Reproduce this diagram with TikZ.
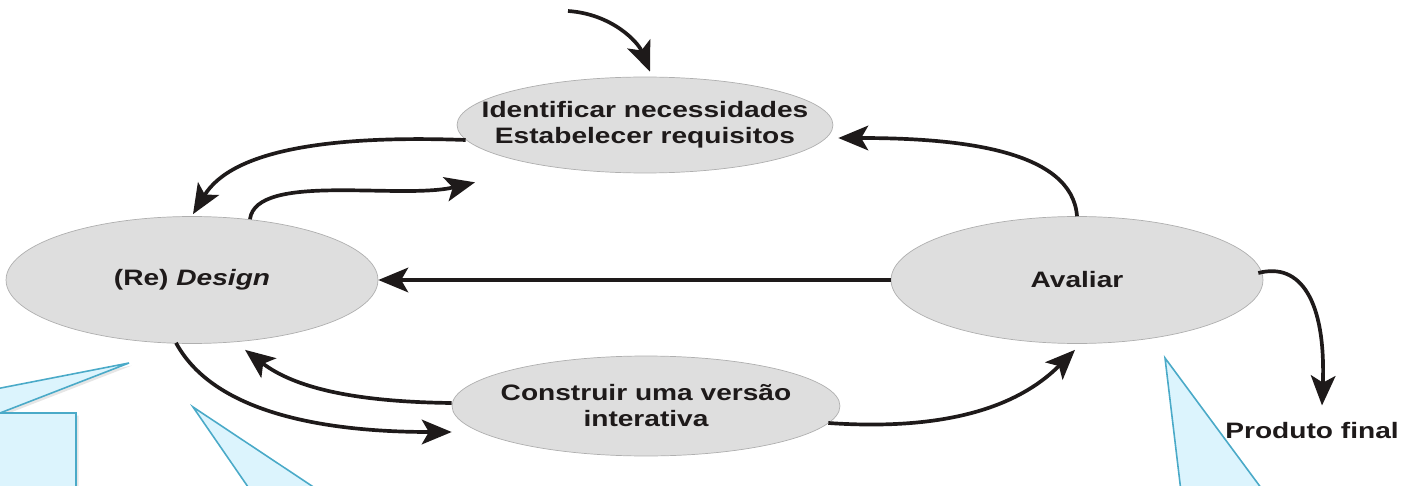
\documentclass[tikz,border=0pt]{standalone}
\usepackage{fontspec}
\newfontfamily\labelfont{Liberation Sans}[FakeStretch=1.26]
\usetikzlibrary{arrows.meta, shapes.geometric, shadows}
\definecolor{stagefill}{RGB}{222, 222, 222}
\definecolor{stageline}{RGB}{175, 175, 175}
\definecolor{calloutfill}{RGB}{220, 244, 253}
\definecolor{calloutline}{RGB}{74, 170, 200}
\definecolor{inkblack}{RGB}{30, 26, 26}
\tikzset{
    labeltext/.style={text=inkblack, font={\labelfont\bfseries\fontsize{12.7}{14.8}\selectfont}},
    stage/.style={ellipse, draw=stageline, fill=stagefill, line width=.4pt,
        labeltext, align=center, inner xsep=-22pt, inner ysep=0pt},
    flow/.style={draw=inkblack, line width=2.1pt,
        -{Stealth[length=17pt, width=14pt, inset=4pt]}},
    callout/.style={draw=calloutline, fill=calloutfill, line width=.9pt,
        drop shadow={shadow xshift=1.5pt, shadow yshift=-1.5pt, opacity=.2}},
}
\begin{document}
\begin{tikzpicture}[x=0.02cm, y=-0.02cm]
    \useasboundingbox (0, 0) rectangle (1408, 486);
    \clip (0, 0) rectangle (1408, 486);
    % callouts, cut off by the page
    \draw[callout] (-30, 394) -- (129, 363) -- (0, 413) -- (76, 413) -- (76, 520)
        -- (-30, 520) -- cycle;
    \draw[callout] (193, 407) -- (333, 500) -- (257, 500) -- cycle;
    \draw[callout] (1165, 358) -- (1270, 500) -- (1182, 500) -- cycle;
    % stages
    \node[stage, minimum width=7.52cm, minimum height=1.92cm] (idn) at (645, 125)
        {Identificar necessidades\\Estabelecer requisitos};
    \node[stage, minimum width=7.44cm, minimum height=2.54cm] (des) at (192, 280)
        {(Re) \textit{Design}};
    \node[stage, minimum width=7.44cm, minimum height=2.54cm] (ava) at (1077, 280)
        {Avaliar};
    \node[stage, minimum width=7.76cm, minimum height=2cm] (con) at (646, 406)
        {Construir uma versão\\interativa};
    \node[labeltext, inner sep=0pt, anchor=base] (prod) at (1312, 438) {Produto final};
    \coordinate (entry) at (568, 11);
    % flows
    \draw[flow] (entry) .. controls (612, 14) and (638, 42) .. ([shift={(5, -5)}]idn.north);
    \draw[flow] ([shift={(9, 15)}]idn.west) .. controls (330, 135) and (232, 150)
        .. ([shift={(1, -2)}]des.north);
    \draw[flow] ([shift={(58, 3)}]des.north) .. controls (256, 172) and (400, 200)
        .. ([shift={(-170, 9)}]idn.south);
    \draw[flow] (ava.north) .. controls (1072, 150) and (960, 138)
        .. ([shift={(5, 13)}]idn.east);
    \draw[flow] (ava.west) -- (des.east);
    \draw[flow] ([shift={(-16, -1)}]des.south) .. controls (215, 415) and (330, 432)
        .. ([shift={(0, 26)}]con.west);
    \draw[flow] ([shift={(0, -3)}]con.west) .. controls (370, 402) and (300, 392)
        .. ([shift={(53, 6)}]des.south);
    \draw[flow] ([shift={(-12, 17)}]con.east) .. controls (960, 432) and (1025, 400)
        .. ([shift={(-2, 6)}]ava.south);
    \draw[flow] ([shift={(-5, -7)}]ava.east) .. controls (1300, 262) and (1326, 300)
        .. ([shift={(10, -16)}]prod.north);
\end{tikzpicture}
\end{document}
